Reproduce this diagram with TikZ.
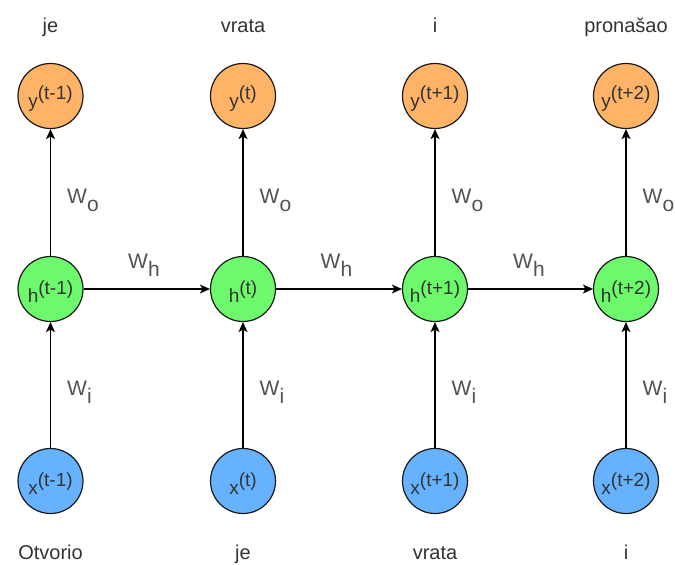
\documentclass[tikz,border=0pt]{standalone}
\usepackage{fontspec}
\setmainfont{Liberation Sans}
\usetikzlibrary{arrows.meta}
\definecolor{yfill}{HTML}{FFB366}
\definecolor{hfill}{HTML}{6CFA6C}
\definecolor{xfill}{HTML}{66B2FF}
\definecolor{txt}{HTML}{333333}
\tikzset{
  cell/.style={circle, draw=black!90, line width=1.2pt, minimum size=65pt, inner sep=0pt, font=\fontsize{19}{21}\selectfont, text=txt},
  ynode/.style={cell, fill=yfill},
  hnode/.style={cell, fill=hfill},
  xnode/.style={cell, fill=xfill},
  word/.style={font=\fontsize{20}{22}\selectfont, text=txt, inner sep=0pt, anchor=base},
  wlab/.style={font=\fontsize{21}{23}\selectfont, text=txt!85, inner sep=0pt, anchor=base west},
  conn/.style={draw=black, line width=1.3pt, -{Stealth[length=10pt,width=9pt,inset=2.5pt]}}
}
\newcommand{\sss}[2]{\raisebox{-3pt}[\height][\depth]{#1\raisebox{8pt}{#2}}}
\newcommand{\wsub}[1]{W\raisebox{-8pt}{\fontsize{21}{23}\selectfont #1}}
\begin{document}
\begin{tikzpicture}[x=1pt,y=-1pt]
\useasboundingbox (0,0) rectangle (675,565);
\foreach \i/\cx/\ss/\tw/\bw in {1/50.5/(t-1)/je/Otvorio, 2/243/(t)/vrata/je, 3/435/(t+1)/i/vrata, 4/626/(t+2)/pronašao/i}{
  \node[ynode] (y\i) at (\cx,96) {\sss{y}{\ss}};
  \node[hnode] (h\i) at (\cx,289) {\sss{h}{\ss}};
  \node[xnode] (x\i) at (\cx,481) {\sss{x}{\ss}};
  \node[word] (t\i) at (\cx,32) {\tw};
  \node[word] (b\i) at (\cx,559) {\bw};
  \draw[conn] (x\i) -- (h\i);
  \draw[conn] (h\i) -- (y\i);
  \node[wlab] (wo\i) at (\cx+16.5,203) {\wsub{o}};
  \node[wlab] (wi\i) at (\cx+16.5,395) {\wsub{i}};
}
\foreach \a/\b/\mx in {1/2/128, 2/3/320.5, 3/4/513}{
  \draw[conn] (h\a) -- (h\b);
  \node[wlab] (wh\a) at (\mx,268) {\wsub{h}};
}
\end{tikzpicture}
\end{document}
